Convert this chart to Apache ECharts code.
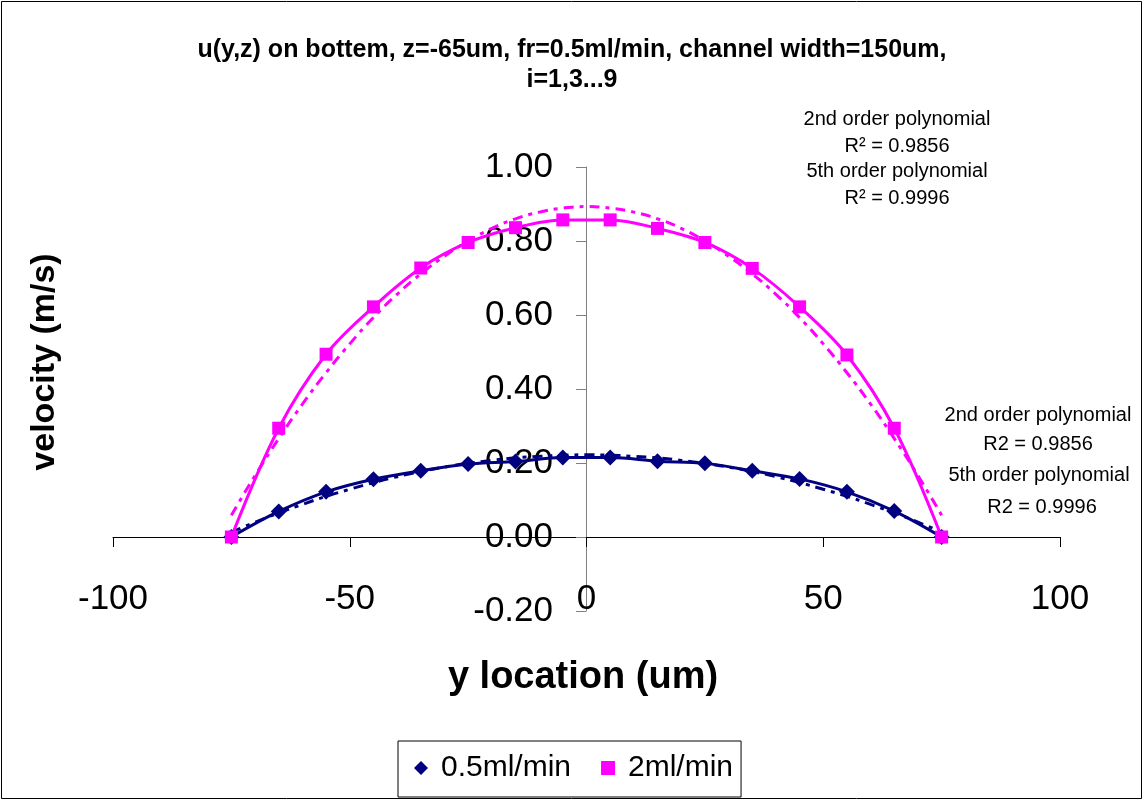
<!DOCTYPE html>
<html>
<head>
<meta charset="utf-8">
<script src="https://cdn.jsdelivr.net/npm/echarts@6/dist/echarts.min.js"></script>
<style>
html,body{margin:0;padding:0;background:#fff;}
#chart{width:1144px;height:801px;}
</style>
</head>
<body>
<div id="chart"></div>
<script>
// y location (um)
var yLocations = [-75,-65,-55,-45,-35,-25,-15,-5,5,15,25,35,45,55,65,75];
// measured velocities (m/s)
var flow05 = [0,0.069,0.122,0.156,0.179,0.197,0.204,0.215,0.215,0.205,0.199,0.179,0.157,0.122,0.070,0];
var flow2 = [0,0.294,0.494,0.622,0.727,0.796,0.836,0.857,0.857,0.834,0.796,0.726,0.622,0.492,0.294,0];
// 2nd order polynomial trendlines
var fitX = [-75,-70,-65,-60,-55,-50,-45,-40,-35,-30,-25,-20,-15,-10,-5,0,5,10,15,20,25,30,35,40,45,50,55,60,65,70,75];
var fit05 = [0.013,0.040,0.065,0.088,0.110,0.129,0.147,0.163,0.177,0.189,0.199,0.207,0.214,0.218,0.221,0.222,0.221,0.218,0.214,0.207,0.199,0.189,0.177,0.163,0.147,0.129,0.110,0.088,0.065,0.040,0.013];
var fit2 = [0.059,0.166,0.266,0.359,0.444,0.522,0.593,0.656,0.711,0.759,0.800,0.834,0.860,0.878,0.889,0.893,0.889,0.878,0.860,0.834,0.800,0.759,0.711,0.656,0.593,0.522,0.444,0.359,0.266,0.166,0.059];
var seriesNames = ['0.5ml/min','2ml/min'];
var titleText = 'u(y,z) on bottem, z=-65um, fr=0.5ml/min, channel width=150um,\ni=1,3...9';

var NAVY = '#000080', MAG = '#FF00FF';
var FONT = 'Arial, "Liberation Sans", sans-serif';

function pairs(xs, ys){ return xs.map(function(x,i){ return [x, ys[i]]; }); }

var chart = echarts.init(document.getElementById('chart'), null, {renderer:'canvas'});
var dashPattern = [10,6,4,6];
var option = {
  backgroundColor:'#fff',
  animation:false,
  title:{
    text:titleText,
    left:'center', top:30,
    textStyle:{fontFamily:FONT, fontWeight:'bold', fontSize:25, lineHeight:30, color:'#000'}
  },
  legend:{
    left:398, top:741,
    padding:[12,8,14,16],
    borderColor:'#000', borderWidth:1,
    itemWidth:14, itemHeight:14, itemGap:30,
    textStyle:{fontFamily:FONT, fontSize:30, color:'#000', padding:[0,0,0,8]},
    data:[{name:seriesNames[0], icon:'diamond'},{name:seriesNames[1], icon:'rect'}]
  },
  grid:{left:113, right:84, top:167, bottom:190},
  xAxis:{
    type:'value', min:-100, max:100, interval:50,
    position:'bottom', offset:-74,
    axisLine:{onZero:false, lineStyle:{color:'#000', width:1}},
    axisTick:{show:true, length:10, lineStyle:{color:'#000'}},
    axisLabel:{margin:45, fontFamily:FONT, fontSize:35, color:'#000'},
    splitLine:{show:false}
  },
  yAxis:{
    type:'value', min:-0.2, max:1.0, interval:0.2,
    position:'left', offset:-473,
    axisLine:{show:true, onZero:false, lineStyle:{color:'#808080', width:1}},
    axisTick:{show:true, length:10, lineStyle:{color:'#808080'}},
    axisLabel:{margin:33, fontFamily:FONT, fontSize:35, color:'#000',
      formatter:function(v){ return v.toFixed(2); }},
    splitLine:{show:false}
  },
  graphic:[
    {type:'rect', shape:{x:1.5,y:1.5,width:1140,height:797}, style:{fill:'none', stroke:'#000', lineWidth:1}, silent:true},
    {type:'text', rotation:Math.PI/2, x:45, y:362, style:{text:'velocity (m/s)', font:'bold 34px '+FONT, fill:'#000', textAlign:'center', textVerticalAlign:'middle'}},
    {type:'text', x:583, y:678, style:{text:'y location (um)', font:'bold 38px '+FONT, fill:'#000', textAlign:'center', textVerticalAlign:'middle'}},
    {type:'text', x:897, y:119, style:{text:'2nd order polynomial', font:'20px '+FONT, fill:'#000', textAlign:'center', textVerticalAlign:'middle'}},
    {type:'text', x:897, y:146, style:{text:'R\u00b2 = 0.9856', font:'20px '+FONT, fill:'#000', textAlign:'center', textVerticalAlign:'middle'}},
    {type:'text', x:897, y:171, style:{text:'5th order polynomial', font:'20px '+FONT, fill:'#000', textAlign:'center', textVerticalAlign:'middle'}},
    {type:'text', x:897, y:198, style:{text:'R\u00b2 = 0.9996', font:'20px '+FONT, fill:'#000', textAlign:'center', textVerticalAlign:'middle'}},
    {type:'text', x:1038, y:415, style:{text:'2nd order polynomial', font:'20px '+FONT, fill:'#000', textAlign:'center', textVerticalAlign:'middle'}},
    {type:'text', x:1038, y:444, style:{text:'R2 = 0.9856', font:'20px '+FONT, fill:'#000', textAlign:'center', textVerticalAlign:'middle'}},
    {type:'text', x:1039, y:475, style:{text:'5th order polynomial', font:'20px '+FONT, fill:'#000', textAlign:'center', textVerticalAlign:'middle'}},
    {type:'text', x:1042, y:507, style:{text:'R2 = 0.9996', font:'20px '+FONT, fill:'#000', textAlign:'center', textVerticalAlign:'middle'}}
  ],
  series:[
    {name:'fit2nd-05', type:'line', data:pairs(fitX, fit05), showSymbol:false, symbol:'none', smooth:true,
      lineStyle:{color:NAVY, width:3, type:dashPattern}, itemStyle:{color:NAVY}, z:1},
    {name:'fit2nd-2', type:'line', data:pairs(fitX, fit2), showSymbol:false, symbol:'none', smooth:true,
      lineStyle:{color:MAG, width:3, type:dashPattern}, itemStyle:{color:MAG}, z:1},
    {name:seriesNames[0], type:'line', data:pairs(yLocations, flow05), smooth:0.35,
      symbol:'diamond', symbolSize:16, itemStyle:{color:NAVY}, lineStyle:{color:NAVY, width:3}, z:3},
    {name:seriesNames[1], type:'line', data:pairs(yLocations, flow2), smooth:0.35,
      symbol:'rect', symbolSize:13, itemStyle:{color:MAG}, lineStyle:{color:MAG, width:3}, z:3}
  ]
};
chart.setOption(option);
</script>
</body>
</html>
